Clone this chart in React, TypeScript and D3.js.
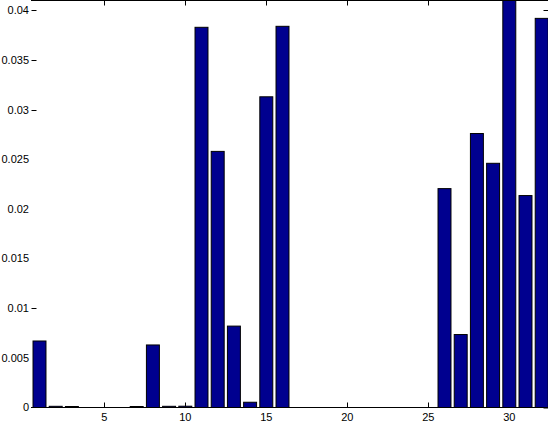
import React from "react";
import * as d3 from "d3";

// bar index 1..32 and its value
const categories = d3.range(1, 33);
const values = [
  0.0067, 0.00012, 0.0001, 0, 0, 0, 0.0001, 0.0063, 0.00012, 0.00013,
  0.0383, 0.0258, 0.0082, 0.00053, 0.0313, 0.0384, 0, 0, 0, 0,
  0, 0, 0, 0, 0, 0.02205, 0.00735, 0.0276, 0.0246, 0.046,
  0.02135, 0.0392,
];
const xTicks = [5, 10, 15, 20, 25, 30];
const yTicks = [0, 0.005, 0.01, 0.015, 0.02, 0.025, 0.03, 0.035, 0.04];
const yTickLabels = ["0", "0.005", "0.01", "0.015", "0.02", "0.025", "0.03", "0.035", "0.04"];
// left tick marks that actually show in the figure
const leftMarked = [0.01, 0.03, 0.035, 0.04];

const W = 548;
const H = 422;
const FONT = "'Liberation Sans', Arial, Helvetica, sans-serif";

export default function App() {
  const x = d3.scaleLinear().domain([0.5, 32.5]).range([31.4, 549.8]);
  const y = d3.scaleLinear().domain([0, 0.041]).range([407.5, 0.5]);
  const unit = x(1) - x(0);
  const barW = unit * 0.8;
  const tick = 5;

  return (
    <svg
      width={W}
      height={H}
      style={{ position: "absolute", left: 0, top: 0, background: "#fff" }}
    >
      <rect width={W} height={H} fill="#fff" />
      <g clipPath="url(#plot)">
        {/* ticks sit under the bars */}
        {xTicks.map((t) => (
          <g key={"xt" + t} stroke="#000" strokeWidth={1}>
            <line x1={Math.round(x(t)) + 0.5} x2={Math.round(x(t)) + 0.5} y1={y(0)} y2={y(0) - tick} />
            <line x1={Math.round(x(t)) + 0.5} x2={Math.round(x(t)) + 0.5} y1={0.5} y2={0.5 + tick} />
          </g>
        ))}
        {yTicks.map((t) => (
          <g key={"yt" + t} stroke="#000" strokeWidth={1}>
            {leftMarked.includes(t) && (
              <line x1={31.5} x2={31.5 + tick} y1={Math.round(y(t)) + 0.5} y2={Math.round(y(t)) + 0.5} />
            )}
            <line x1={548.5 - tick} x2={548.5} y1={Math.round(y(t)) + 0.5} y2={Math.round(y(t)) + 0.5} />
          </g>
        ))}
        {categories.map((c, i) => {
          const v = values[i];
          const top = y(v);
          return (
            <rect
              key={c}
              x={x(c) - barW / 2}
              y={top}
              width={barW}
              height={Math.max(0, y(0) - top)}
              fill="#00008F"
              stroke="#000"
              strokeWidth={1}
            />
          );
        })}
      </g>
      <defs>
        <clipPath id="plot">
          <rect x={0} y={0} width={W} height={y(0) + 1} />
        </clipPath>
      </defs>
      {/* frame lines */}
      <line x1={31} x2={W} y1={0.5} y2={0.5} stroke="#000" />
      <line x1={31} x2={W} y1={407.5} y2={407.5} stroke="#000" />
      {yTicks.map((t, i) => (
        <text
          key={"yl" + t}
          x={29}
          y={y(t)}
          dy="0.35em"
          textAnchor="end"
          fontFamily={FONT}
          fontSize={11}
          fill="#000"
        >
          {yTickLabels[i]}
        </text>
      ))}
      {xTicks.map((t) => (
        <text
          key={"xl" + t}
          x={x(t)}
          y={421}
          textAnchor="middle"
          fontFamily={FONT}
          fontSize={11}
          fill="#000"
        >
          {t}
        </text>
      ))}
    </svg>
  );
}
